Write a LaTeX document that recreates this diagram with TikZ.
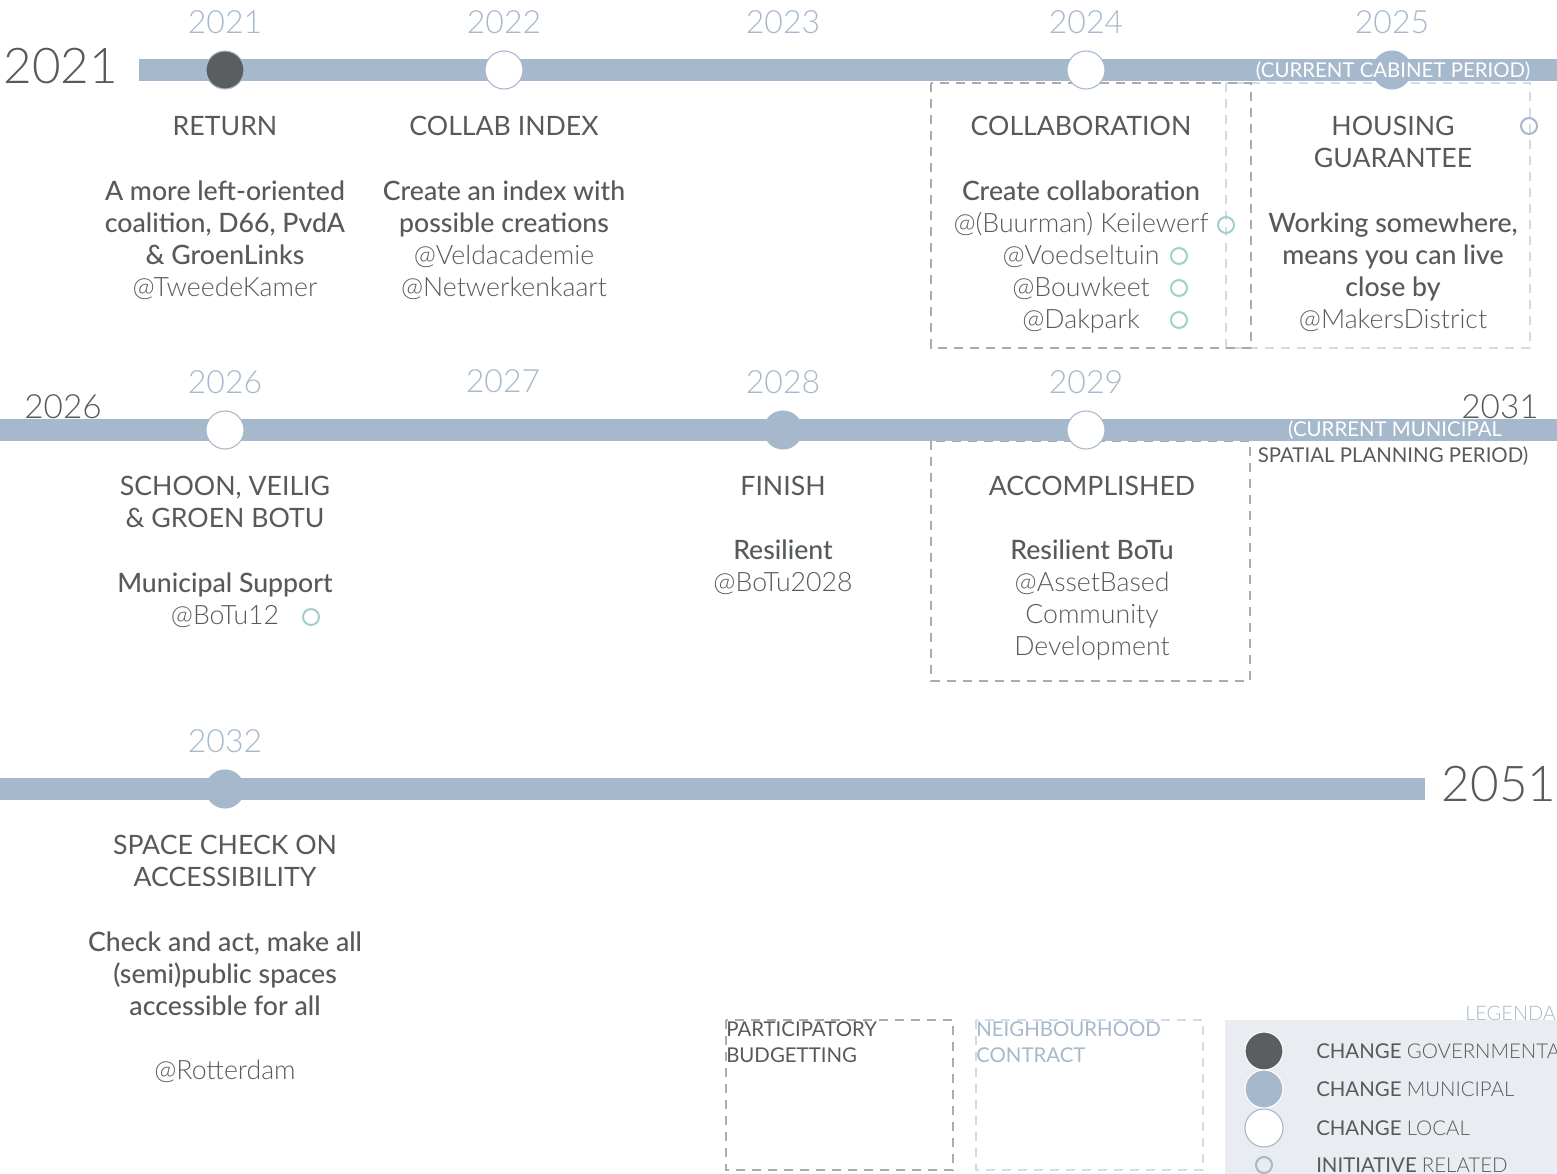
\documentclass[tikz,border=0pt]{standalone}
\usepackage{fontspec}
\setmainfont{Lato}
\IfFontExistsTF{Lato Light}{\newfontfamily\lightf{Lato Light}}{\newfontfamily\lightf{Lato}}
\IfFontExistsTF{Lato Medium}{\newfontfamily\medf{Lato Medium}}{\newfontfamily\medf{Lato}}
\definecolor{bar}{HTML}{A6B8CC}
\definecolor{ink}{HTML}{565A5B}
\definecolor{govdark}{HTML}{5A5E5F}
\definecolor{teal}{HTML}{A3CFCA}
\definecolor{legbg}{HTML}{E9ECF0}
\definecolor{dashgray}{HTML}{ABABAB}
\definecolor{dashblue}{HTML}{D3DCE6}

\begin{document}
\begin{tikzpicture}[x=0.75pt,y=-0.75pt,
  change/.style={draw=bar, circle, line width=0.8pt, minimum size=28.5pt, inner sep=0pt},
  initiative/.style={draw=teal, circle, line width=1.5pt, minimum size=12pt, inner sep=0pt},
  year/.style={text=bar, font=\lightf\fontsize{24}{24}\selectfont},
  bigyear/.style={text=ink, inner sep=0pt, font=\lightf\fontsize{37}{37}\selectfont},
  midyear/.style={text=ink, inner sep=0pt, font=\lightf\fontsize{25}{25}\selectfont},
  head/.style={text=ink, anchor=north, align=center, inner sep=0pt, font=\fontsize{20}{24}\selectfont},
  body/.style={text=ink, anchor=north, align=center, inner sep=0pt, font=\lightf\fontsize{20}{24}\selectfont},
  small/.style={inner sep=0pt, font=\fontsize{15.3}{19.5}\selectfont},
  frame/.style={draw=dashgray, dashed, dash pattern=on 7pt off 5pt, line width=1.5pt},
  framelight/.style={draw=dashblue, dashed, dash pattern=on 7pt off 5pt, line width=1.5pt}]
\useasboundingbox (0,0) rectangle (1557,1174);
\newcommand\moment[5]{
\node[change, fill=#4] (#1) at (#2,#3) {};
\node[year] (#1y) at (#2,#3-48) {#5};
}

\draw[framelight] (1226,83) rectangle (1530,348);
\draw[frame] (931,83) rectangle (1251,348);
\draw[frame] (931,441) rectangle (1250,681);

\path[draw=bar,line width=16.5pt] (139,70) -- (1557,70);
\path[draw=bar,line width=16.5pt] (0,430) -- (1557,430);
\path[draw=bar,line width=16.5pt] (0,789) -- (1425,789);

\node[bigyear] (start) at (61,66) {2021};
\node[midyear] (mid) at (63,407) {2026};
\node[midyear] (midend) at (1500,407) {2031};
\node[bigyear] (end) at (1499,784) {2051};

\moment{m21}{225}{70}{govdark}{2021}
\moment{m22}{504}{70}{white}{2022}
\node[year] (m23y) at (783,22) {2023};
\moment{m24}{1086}{70}{white}{2024}
\moment{m25}{1392}{70}{bar}{2025}
\moment{m26}{225}{430}{white}{2026}
\node[year] (m27y) at (503,381) {2027};
\moment{m28}{783}{430}{bar}{2028}
\moment{m29}{1086}{430}{white}{2029}
\moment{m32}{225}{789}{bar}{2032}

\node[small, text=white] (cabinet) at (1393,71) {(CURRENT CABINET PERIOD)};
\node[small, text=white] (municipal) at (1395,430) {(CURRENT MUNICIPAL};
\node[small, text=ink] (spatial) at (1393,456) {SPATIAL PLANNING PERIOD)};

\node[head] (ret) at (225,116) {RETURN};
\node[body] (retb) at (225,181) {\medf A more left-oriented\\\medf coalition, D66, PvdA\\\medf \& GroenLinks\\@TweedeKamer};
\node[head] (idx) at (504,116) {COLLAB INDEX};
\node[body] (idxb) at (504,181) {\medf Create an index with\\\medf possible creations\\@Veldacademie\\@Netwerkenkaart};
\node[head] (col) at (1081,116) {COLLABORATION};
\node[body] (colb) at (1081,181) {\medf Create collaboration\\@(Buurman) Keilewerf\\@Voedseltuin\\@Bouwkeet\\@Dakpark};
\node[initiative] (i1) at (1226,225) {};
\node[initiative] (i2) at (1179,256) {};
\node[initiative] (i3) at (1179,288) {};
\node[initiative] (i4) at (1179,320) {};
\node[head] (hous) at (1393,116) {HOUSING\\GUARANTEE};
\node[initiative, draw=bar] (i5) at (1529,126) {};
\node[body] (housb) at (1393,213) {\medf Working somewhere,\\\medf means you can live\\\medf close by\\@MakersDistrict};

\node[head] (sch) at (225,476) {SCHOON, VEILIG\\\& GROEN BOTU};
\node[body] (schb) at (225,573) {\medf Municipal Support\\@BoTu12};
\node[initiative] (i6) at (311,617) {};
\node[head] (fin) at (783,476) {FINISH};
\node[body] (finb) at (783,540) {\medf Resilient\\@BoTu2028};
\node[head] (acc) at (1092,476) {ACCOMPLISHED};
\node[body] (accb) at (1092,540) {\medf Resilient BoTu\\@AssetBased\\Community\\Development};

\node[head] (spc) at (225,835) {SPACE CHECK ON\\ACCESSIBILITY};
\node[body] (spcb) at (225,932) {\medf Check and act, make all\\\medf (semi)public spaces\\\medf accessible for all\\[24pt]@Rotterdam};

\draw[frame] (726,1020) rectangle (953,1170);
\node[small, anchor=north west, align=left, text=ink] (pb) at (726,1021) {PARTICIPATORY\\BUDGETTING};
\draw[framelight] (976,1020) rectangle (1203,1170);
\node[small, anchor=north west, align=left, text=bar] (nc) at (976,1021) {NEIGHBOURHOOD\\CONTRACT};

\fill[legbg] (1225,1020) rectangle (1557,1174);
\node[small, anchor=west, text=bar, font=\lightf\fontsize{15}{15}\selectfont] (leg) at (1465,1013) {LEGENDA};
\node[change, fill=govdark, draw=white] (l1) at (1264,1051) {};
\node[change, fill=bar, draw=white] (l2) at (1264,1089) {};
\node[change, fill=white] (l3) at (1264,1128) {};
\node[initiative, draw=bar] (l4) at (1264,1165) {};
\node[small, anchor=west, text=ink] (t1) at (1316,1051) {CHANGE \lightf GOVERNMENTAL};
\node[small, anchor=west, text=ink] (t2) at (1316,1089) {CHANGE \lightf MUNICIPAL};
\node[small, anchor=west, text=ink] (t3) at (1316,1128) {CHANGE \lightf LOCAL};
\node[small, anchor=west, text=ink] (t4) at (1316,1165) {INITIATIVE \lightf RELATED};
\end{tikzpicture}
\end{document}
